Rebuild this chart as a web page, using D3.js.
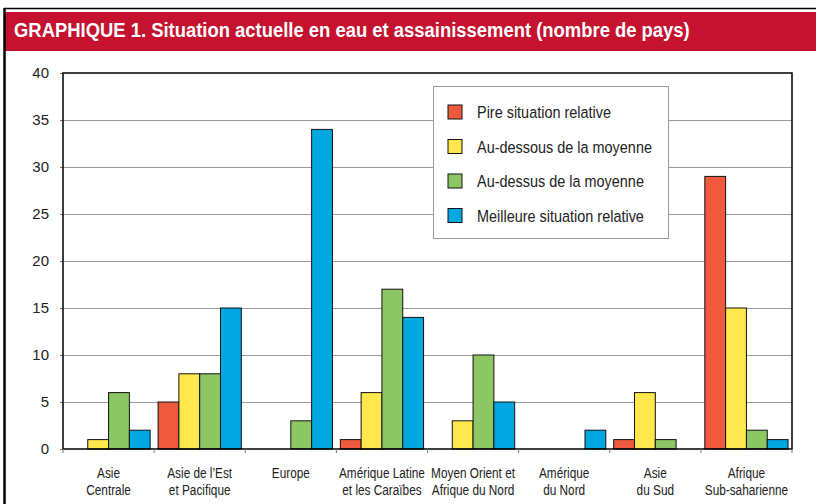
<!DOCTYPE html>
<html>
<head>
<meta charset="utf-8">
<script src="https://cdn.jsdelivr.net/npm/d3@7"></script>
<style>
  body { margin: 0; background: #fff; }
  svg { display: block; font-family: "Liberation Sans", Arial, sans-serif; }
</style>
</head>
<body>
<div id="chart"></div>
<script>
// categories (two label lines each) and series
const categories = [
  ['Asie', 'Centrale'],
  ['Asie de l\u2019Est', 'et Pacifique'],
  ['Europe', ''],
  ['Amérique Latine', 'et les Caraïbes'],
  ['Moyen Orient et', 'Afrique du Nord'],
  ['Amérique', 'du Nord'],
  ['Asie', 'du Sud'],
  ['Afrique', 'Sub-saharienne']
];
const seriesNames = ['Pire situation relative', 'Au-dessous de la moyenne', 'Au-dessus de la moyenne', 'Meilleure situation relative'];
const pire      = [0, 5, 0, 1, 0, 0, 1, 29];
const dessous   = [1, 8, 0, 6, 3, 0, 6, 15];
const dessus    = [6, 8, 3, 17, 10, 0, 1, 2];
const meilleure = [2, 15, 34, 14, 5, 2, 0, 1];
const yTicks = [0, 5, 10, 15, 20, 25, 30, 35, 40];
const colors = ['#ef5a3f', '#ffe74c', '#8cc665', '#00a7e1'];
const title = 'GRAPHIQUE 1. Situation actuelle en eau et assainissement (nombre de pays)';

const W = 816, H = 504;
const m = { left: 63, right: 24, top: 73, bottom: 55 };
const svg = d3.select('#chart').append('svg').attr('width', W).attr('height', H);

// the original uses a condensed face; squeeze a regular one horizontally
function squeeze(sample, size, weight, target) {
  const t = svg.append('text').attr('font-size', size).attr('font-weight', weight).text(sample);
  const w = t.node().getComputedTextLength();
  t.remove();
  return target / w;
}

// frame + banner
svg.append('rect').attr('x', 5).attr('y', 12).attr('width', W - 5).attr('height', 39).attr('fill', '#c4122f');
svg.append('line').attr('x1', 4).attr('x2', W).attr('y1', 8.5).attr('y2', 8.5).attr('stroke', '#000').attr('stroke-width', 1.5);
svg.append('line').attr('x1', 4.5).attr('x2', 4.5).attr('y1', 8).attr('y2', H).attr('stroke', '#000').attr('stroke-width', 2.5);
const kT = squeeze(title, 21, 'bold', 676);
svg.append('text').attr('transform', `translate(14,37) scale(${kT},1)`).attr('fill', '#fff')
  .attr('font-size', 21).attr('font-weight', 'bold').text(title);

const x0 = d3.scaleBand().domain(d3.range(categories.length)).range([m.left, W - m.right]);
const x1 = d3.scaleBand().domain(d3.range(4)).range([0, x0.bandwidth()]).paddingOuter(0.19);
const y = d3.scaleLinear().domain([0, 40]).range([H - m.bottom, m.top]);

// gridlines
svg.append('g').selectAll('line').data(yTicks.slice(1, -1)).join('line')
  .attr('x1', m.left - 3).attr('x2', W - m.right)
  .attr('y1', d => Math.round(y(d)) + 0.5).attr('y2', d => Math.round(y(d)) + 0.5)
  .attr('stroke', '#9a9a9a').attr('stroke-width', 1);

// y axis
const yAxis = svg.append('g').attr('transform', `translate(${m.left},0)`)
  .call(d3.axisLeft(y).tickValues(yTicks).tickSize(3).tickPadding(11));
yAxis.select('.domain').remove();
yAxis.selectAll('.tick line').attr('stroke', '#777');
yAxis.selectAll('text').attr('font-size', 15).attr('fill', '#222').attr('font-family', 'inherit');

// bars
const data = [pire, dessous, dessus, meilleure];
const groups = svg.append('g').selectAll('g').data(categories).join('g')
  .attr('transform', (d, i) => `translate(${x0(i)},0)`);
groups.selectAll('rect')
  .data((d, i) => data.map((s, k) => ({ k, v: s[i] })).filter(e => e.v > 0))
  .join('rect')
  .attr('x', e => x1(e.k)).attr('width', x1.bandwidth())
  .attr('y', e => y(e.v)).attr('height', e => y(0) - y(e.v))
  .attr('fill', e => colors[e.k]).attr('stroke', '#111').attr('stroke-width', 1);

// plot frame
svg.append('rect').attr('x', m.left).attr('y', m.top)
  .attr('width', W - m.right - m.left).attr('height', H - m.bottom - m.top)
  .attr('fill', 'none').attr('stroke', '#000').attr('stroke-width', 1.5);

// x axis ticks at group boundaries
svg.append('g').selectAll('line').data(d3.range(categories.length + 1)).join('line')
  .attr('x1', i => m.left + i * x0.step()).attr('x2', i => m.left + i * x0.step())
  .attr('y1', y(0)).attr('y2', y(0) + 4).attr('stroke', '#777');

// x labels
const kX = squeeze('Moyen Orient et', 15, 'normal', 84);
const labels = svg.append('g').selectAll('text').data(categories).join('text')
  .attr('text-anchor', 'middle').attr('font-size', 15).attr('fill', '#222')
  .attr('transform', (d, i) => `translate(${x0(i) + x0.bandwidth() / 2},0) scale(${kX},1)`);
labels.append('tspan').attr('x', 0).attr('y', 478).text(d => d[0]);
labels.append('tspan').attr('x', 0).attr('y', 495).text(d => d[1]);

// legend
const kL = squeeze('Au-dessous de la moyenne', 16.5, 'normal', 175);
const lg = svg.append('g').attr('transform', 'translate(433,86)');
lg.append('rect').attr('x', 0.5).attr('y', 0.5).attr('width', 235).attr('height', 152)
  .attr('fill', '#fff').attr('stroke', '#999');
const items = lg.selectAll('g').data(seriesNames).join('g')
  .attr('transform', (d, i) => `translate(15,${26 + i * 34.5})`);
items.append('rect').attr('x', 0).attr('y', -7).attr('width', 14).attr('height', 14)
  .attr('fill', (d, i) => colors[i]).attr('stroke', '#111');
items.append('text').attr('transform', `translate(29,6) scale(${kL},1)`)
  .attr('font-size', 16.5).attr('fill', '#222').text(d => d);
</script>
</body>
</html>
